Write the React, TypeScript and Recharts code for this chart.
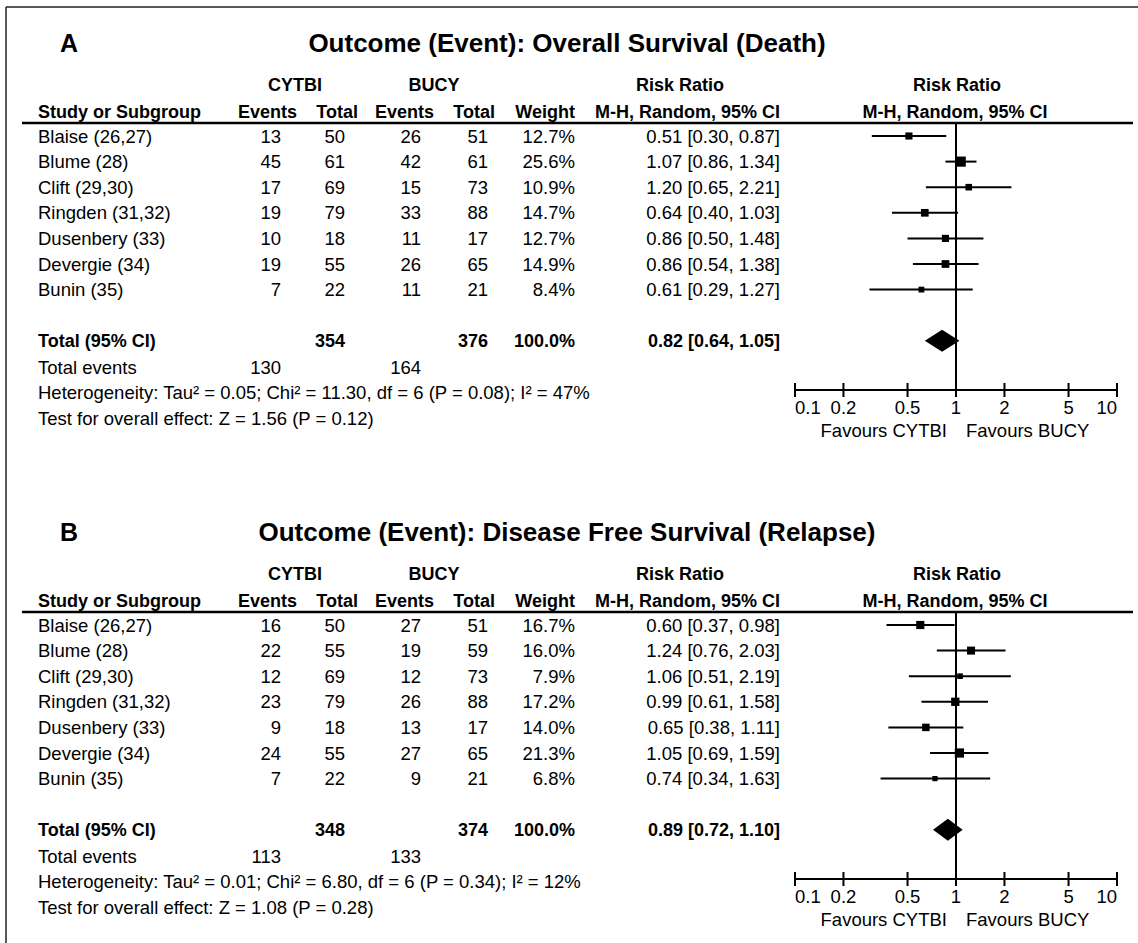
import React from 'react';
import { ComposedChart, Scatter, XAxis, YAxis, ReferenceLine, ErrorBar } from 'recharts';

// ---------- DATA ----------
const studies = ['Blaise (26,27)', 'Blume (28)', 'Clift (29,30)', 'Ringden (31,32)', 'Dusenbery (33)', 'Devergie (34)', 'Bunin (35)'];
const tickValues = [0.1, 0.2, 0.5, 1, 2, 5, 10];

// Panel A: Overall Survival (Death)
const osCytbiEvents = [13, 45, 17, 19, 10, 19, 7];
const osCytbiTotal = [50, 61, 69, 79, 18, 55, 22];
const osBucyEvents = [26, 42, 15, 33, 11, 26, 11];
const osBucyTotal = [51, 61, 73, 88, 17, 65, 21];
const osWeight = [12.7, 25.6, 10.9, 14.7, 12.7, 14.9, 8.4];
const osRR = [0.51, 1.07, 1.2, 0.64, 0.86, 0.86, 0.61];
const osLow = [0.3, 0.86, 0.65, 0.4, 0.5, 0.54, 0.29];
const osHigh = [0.87, 1.34, 2.21, 1.03, 1.48, 1.38, 1.27];
const osTotals = [354, 376];
const osTotalEvents = [130, 164];
const osPooled = [0.82, 0.64, 1.05];
const osHeterogeneity = 'Heterogeneity: Tau\u00b2 = 0.05; Chi\u00b2 = 11.30, df = 6 (P = 0.08); I\u00b2 = 47%';
const osOverall = 'Test for overall effect: Z = 1.56 (P = 0.12)';

// Panel B: Disease Free Survival (Relapse)
const dfsCytbiEvents = [16, 22, 12, 23, 9, 24, 7];
const dfsCytbiTotal = [50, 55, 69, 79, 18, 55, 22];
const dfsBucyEvents = [27, 19, 12, 26, 13, 27, 9];
const dfsBucyTotal = [51, 59, 73, 88, 17, 65, 21];
const dfsWeight = [16.7, 16.0, 7.9, 17.2, 14.0, 21.3, 6.8];
const dfsRR = [0.6, 1.24, 1.06, 0.99, 0.65, 1.05, 0.74];
const dfsLow = [0.37, 0.76, 0.51, 0.61, 0.38, 0.69, 0.34];
const dfsHigh = [0.98, 2.03, 2.19, 1.58, 1.11, 1.59, 1.63];
const dfsTotals = [348, 374];
const dfsTotalEvents = [113, 133];
const dfsPooled = [0.89, 0.72, 1.1];
const dfsHeterogeneity = 'Heterogeneity: Tau\u00b2 = 0.01; Chi\u00b2 = 6.80, df = 6 (P = 0.34); I\u00b2 = 12%';
const dfsOverall = 'Test for overall effect: Z = 1.08 (P = 0.28)';

// ---------- LAYOUT ----------
const W = 1138;
const H = 943;
const PANEL_OFF = 489;
const PANEL_H = 489;
const TITLE_Y = 43;
const GROUP_Y = 84;
const HEAD_Y = 111;
const HEADER_LINE = 123;
const ROW0 = 136;
const ROW_STEP = 25.6;
const TOTAL_ROW = 8;
const EVENTS_Y = 367;
const HET_Y = 392;
const TEST_Y = 418;
const AXIS_Y = 390;
const FOREST_LEFT = 795;
const FOREST_RIGHT = 1117;
const X_AXIS_H = 60;
const FONT = '"Liberation Sans", Arial, Helvetica, sans-serif';
const FS = 18.5;
const FSB = 18;

const COL = { study: 38, cEv: 281, cTot: 345, bEv: 421, bTot: 488, wt: 575, rr: 780 };
const HCOL = { cEv: 297, cTot: 358, bEv: 434, bTot: 495, wt: 575 };

const rowY = (i: number) => ROW0 + ROW_STEP * i;
const fmtRR = (r: number, l: number, h: number) => `${r.toFixed(2)} [${l.toFixed(2)}, ${h.toFixed(2)}]`;

type PanelProps = {
  off: number;
  letter: string;
  title: string;
  cEv: number[]; cTot: number[]; bEv: number[]; bTot: number[];
  weight: number[]; rr: number[]; low: number[]; high: number[];
  totals: number[]; totalEvents: number[]; pooled: number[];
  het: string; overall: string;
};

function PanelTable(p: PanelProps) {
  const t = (y: number) => p.off + y;
  const base = 6.5;
  const R = (x: number, y: number, s: string | number, bold = false) => (
    <text x={x} y={t(y) + base} textAnchor="end" fontWeight={bold ? 700 : 400} fontSize={bold ? FSB : FS}>{s}</text>
  );
  return (
    <g fontFamily={FONT} fontSize={FS} fill="#000">
      <text x={60} y={t(TITLE_Y) + 9} fontSize={25} fontWeight={700}>{p.letter}</text>
      <text x={567} y={t(TITLE_Y) + 9} fontSize={26} fontWeight={700} textAnchor="middle">{p.title}</text>
      <g fontWeight={700} fontSize={FSB}>
        <text x={295} y={t(GROUP_Y) + base} textAnchor="middle">CYTBI</text>
        <text x={434} y={t(GROUP_Y) + base} textAnchor="middle">BUCY</text>
        <text x={680} y={t(GROUP_Y) + base} textAnchor="middle">Risk Ratio</text>
        <text x={957} y={t(GROUP_Y) + base} textAnchor="middle">Risk Ratio</text>
        <text x={COL.study} y={t(HEAD_Y) + base}>Study or Subgroup</text>
        <text x={HCOL.cEv} y={t(HEAD_Y) + base} textAnchor="end">Events</text>
        <text x={HCOL.cTot} y={t(HEAD_Y) + base} textAnchor="end">Total</text>
        <text x={HCOL.bEv} y={t(HEAD_Y) + base} textAnchor="end">Events</text>
        <text x={HCOL.bTot} y={t(HEAD_Y) + base} textAnchor="end">Total</text>
        <text x={HCOL.wt} y={t(HEAD_Y) + base} textAnchor="end">Weight</text>
        <text x={COL.rr} y={t(HEAD_Y) + base} textAnchor="end">M-H, Random, 95% CI</text>
        <text x={955} y={t(HEAD_Y) + base} textAnchor="middle">M-H, Random, 95% CI</text>
      </g>
      <line x1={22} x2={1133} y1={t(HEADER_LINE)} y2={t(HEADER_LINE)} stroke="#000" strokeWidth={2.5} />
      {studies.map((s, i) => (
        <g key={s}>
          <text x={COL.study} y={t(rowY(i)) + base}>{s}</text>
          {R(COL.cEv, rowY(i), p.cEv[i])}
          {R(COL.cTot, rowY(i), p.cTot[i])}
          {R(COL.bEv, rowY(i), p.bEv[i])}
          {R(COL.bTot, rowY(i), p.bTot[i])}
          {R(COL.wt, rowY(i), p.weight[i].toFixed(1) + '%')}
          {R(COL.rr, rowY(i), fmtRR(p.rr[i], p.low[i], p.high[i]))}
        </g>
      ))}
      <text x={COL.study} y={t(rowY(TOTAL_ROW)) + base} fontWeight={700} fontSize={FSB}>Total (95% CI)</text>
      {R(COL.cTot, rowY(TOTAL_ROW), p.totals[0], true)}
      {R(COL.bTot, rowY(TOTAL_ROW), p.totals[1], true)}
      {R(COL.wt, rowY(TOTAL_ROW), '100.0%', true)}
      {R(COL.rr, rowY(TOTAL_ROW), fmtRR(p.pooled[0], p.pooled[1], p.pooled[2]), true)}
      <text x={COL.study} y={t(EVENTS_Y) + base}>Total events</text>
      {R(COL.cEv, EVENTS_Y, p.totalEvents[0])}
      {R(COL.bEv, EVENTS_Y, p.totalEvents[1])}
      <text x={COL.study} y={t(HET_Y) + base}>{p.het}</text>
      <text x={COL.study} y={t(TEST_Y) + base}>{p.overall}</text>
    </g>
  );
}

const SquareShape = (props: any) => {
  const { cx, cy, payload } = props;
  const s = 2 * Math.sqrt(payload.w);
  return <rect x={cx - s / 2} y={cy - s / 2} width={s} height={s} fill="#000" />;
};

const NoShape = () => <g />;

const renderDiamond = (props: any) => {
  const pts = props.points || [];
  if (pts.length < 3) return <g />;
  const gx = (q: any) => (q.x !== undefined ? q.x : q.cx);
  const gy = (q: any) => (q.y !== undefined ? q.y : q.cy);
  const l = pts[0], c = pts[1], r = pts[2];
  const y = gy(c);
  const h = 11;
  return <polygon points={`${gx(l)},${y} ${gx(c)},${y - h} ${gx(r)},${y} ${gx(c)},${y + h}`} fill="#000" />;
};

const AxisTick = (props: any) => {
  const { x, y, payload, index } = props;
  const last = tickValues.length - 1;
  const anchor = index === 0 ? 'start' : index === last ? 'end' : 'middle';
  return (
    <g fontFamily={FONT} fontSize={FS} fill="#000">
      <line x1={x} x2={x} y1={y - 7} y2={y + 7} stroke="#000" strokeWidth={2} />
      <text x={x} y={y + 24} textAnchor={anchor} fill="#000">{payload.value}</text>
      {payload.value === 1 && (
        <g>
          <text x={x - 9} y={y + 47} textAnchor="end" fill="#000">Favours CYTBI</text>
          <text x={x + 10} y={y + 47} textAnchor="start" fill="#000">Favours BUCY</text>
        </g>
      )}
    </g>
  );
};

function Forest(p: PanelProps) {
  const studyData = studies.map((s, i) => ({
    name: s,
    x: p.rr[i],
    y: i,
    w: p.weight[i],
    err: [p.rr[i] - p.low[i], p.high[i] - p.rr[i]],
  }));
  const pooledData = [
    { x: p.pooled[1], y: TOTAL_ROW },
    { x: p.pooled[0], y: TOTAL_ROW },
    { x: p.pooled[2], y: TOTAL_ROW },
  ];
  const yTop = (HEADER_LINE - ROW0) / ROW_STEP;
  const yBottom = (AXIS_Y - ROW0) / ROW_STEP;
  return (
    <div style={{ position: 'absolute', left: 0, top: p.off }}>
      <ComposedChart
        width={W}
        height={PANEL_H}
        margin={{ top: HEADER_LINE, left: FOREST_LEFT, right: W - FOREST_RIGHT, bottom: PANEL_H - AXIS_Y - X_AXIS_H }}
      >
        <XAxis
          type="number"
          dataKey="x"
          scale="log"
          domain={[0.1, 10]}
          ticks={tickValues}
          allowDataOverflow
          height={X_AXIS_H}
          axisLine={{ stroke: '#000', strokeWidth: 2 }}
          tickLine={false}
          tickSize={0}
          tickMargin={0}
          tick={<AxisTick />}
          interval={0}
        />
        <YAxis type="number" dataKey="y" domain={[yTop, yBottom]} reversed hide allowDataOverflow />
        <ReferenceLine x={1} stroke="#000" strokeWidth={2} />
        <Scatter data={studyData} shape={<SquareShape />} isAnimationActive={false}>
          <ErrorBar dataKey="err" direction="x" width={0} stroke="#000" strokeWidth={2} isAnimationActive={false} />
        </Scatter>
        <Scatter data={pooledData} shape={<NoShape />} line={renderDiamond} isAnimationActive={false} />
      </ComposedChart>
    </div>
  );
}

export default function App() {
  const panels: PanelProps[] = [
    {
      off: 0, letter: 'A', title: 'Outcome (Event): Overall Survival (Death)',
      cEv: osCytbiEvents, cTot: osCytbiTotal, bEv: osBucyEvents, bTot: osBucyTotal,
      weight: osWeight, rr: osRR, low: osLow, high: osHigh,
      totals: osTotals, totalEvents: osTotalEvents, pooled: osPooled,
      het: osHeterogeneity, overall: osOverall,
    },
    {
      off: PANEL_OFF, letter: 'B', title: 'Outcome (Event): Disease Free Survival (Relapse)',
      cEv: dfsCytbiEvents, cTot: dfsCytbiTotal, bEv: dfsBucyEvents, bTot: dfsBucyTotal,
      weight: dfsWeight, rr: dfsRR, low: dfsLow, high: dfsHigh,
      totals: dfsTotals, totalEvents: dfsTotalEvents, pooled: dfsPooled,
      het: dfsHeterogeneity, overall: dfsOverall,
    },
  ];
  return (
    <div style={{ position: 'absolute', left: 0, top: 0, width: W, height: H, background: '#fff', overflow: 'hidden' }}>
      <svg width={W} height={H} style={{ position: 'absolute', left: 0, top: 0 }}>
        <rect x={0} y={0} width={W} height={H} fill="#fff" />
        <line x1={6} x2={W} y1={7} y2={7} stroke="#222" strokeWidth={1.5} />
        <line x1={6} x2={6} y1={7} y2={H} stroke="#222" strokeWidth={1.5} />
        {panels.map((p) => <PanelTable key={p.letter} {...p} />)}
      </svg>
      {panels.map((p) => <Forest key={p.letter} {...p} />)}
    </div>
  );
}
